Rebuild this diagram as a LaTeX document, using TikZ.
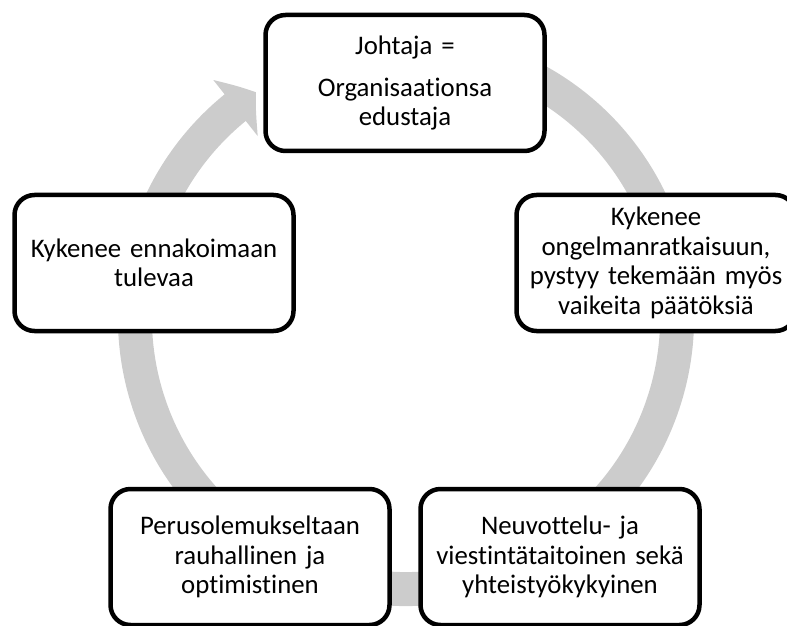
\documentclass[tikz,border=0pt]{standalone}
\usepackage{fontspec}
\setmainfont{Carlito}[Ligatures=NoCommon, WordSpace=0.75]
\usetikzlibrary{arrows.meta}
\usetikzlibrary{bending}
\definecolor{ringgray}{RGB}{204,204,204}
\tikzset{
    box/.style = {rectangle, rounded corners=20pt, line width=4.5pt, draw=black, fill=white, minimum width=279pt, minimum height=136pt, text width=270pt, align=center, font=\fontsize{26.8}{29.5}\selectfont},
    ring/.style = {line width=34pt, draw=ringgray, -{Triangle[length=26pt,width=70pt,bend]}},
}

\begin{document}
\begin{tikzpicture}[x=1pt,y=1pt]
\useasboundingbox (0,0) rectangle (787,625);
\coordinate (hub) at (406,307);
\draw[ring] ([shift={(70:271pt)}]hub) arc[start angle=70, end angle=-236.4, radius=271pt];
%
\node[box] at (405,542) (a) {Johtaja =\\[12pt] Organisaationsa\\ edustaja};
\node[box] at (656,362) (b) {Kykenee\\ ongelmanratkaisuun,\\ pystyy tekemään myös\\ vaikeita päätöksiä};
\node[box] at (560,68) (c) {Neuvottelu- ja\\ viestintätaitoinen sekä\\ yhteistyökykyinen};
\node[box] at (250,68) (d) {Perusolemukseltaan\\ rauhallinen ja\\ optimistinen};
\node[box] at (154,362) (e) {Kykenee ennakoimaan\\ tulevaa};
\end{tikzpicture}
\end{document}
